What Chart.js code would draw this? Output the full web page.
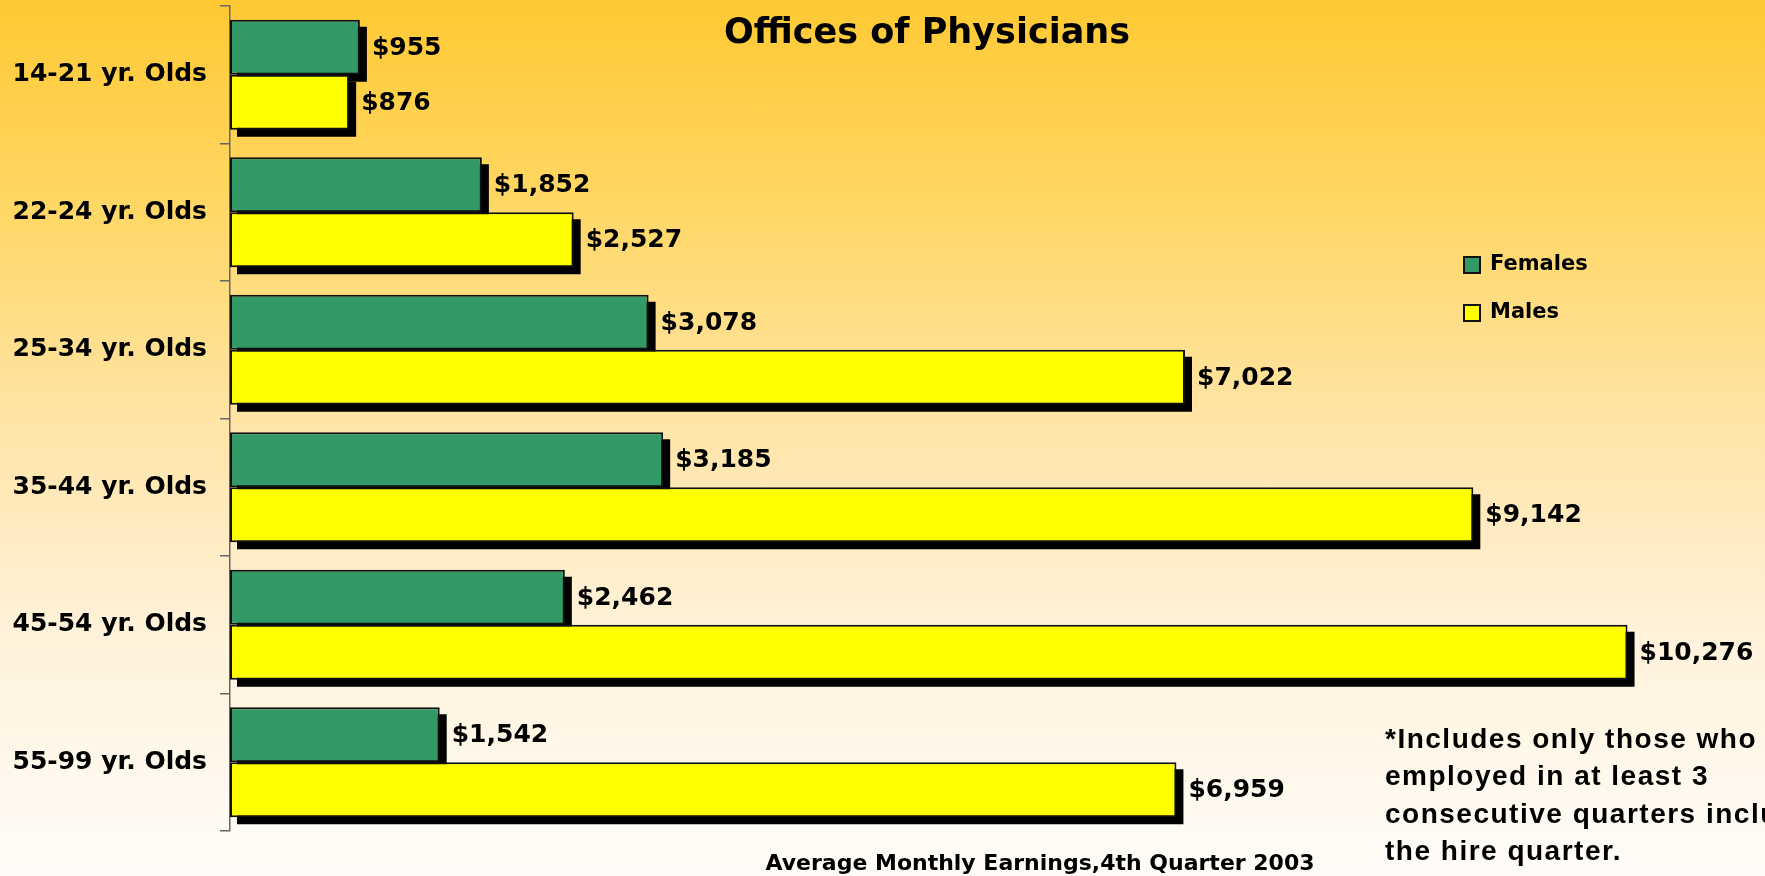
<!DOCTYPE html>
<html>
<head>
<meta charset="utf-8">
<script src="https://cdn.jsdelivr.net/npm/chart.js@4.4.0/dist/chart.umd.min.js"></script>
<style>
  html, body { margin: 0; padding: 0; }
  body {
    width: 1765px; height: 876px; overflow: hidden;
    background: linear-gradient(to bottom, #FFC933 0%, #FFD868 25%, #FFE4A6 48%, #FFF2DA 72%, #FFFCF8 100%);
  }
  #wrap { position: relative; width: 1765px; height: 876px; }
</style>
</head>
<body>
<div id="wrap"><canvas id="myChart" width="1765" height="876"></canvas></div>
<script>
const categories = ['14-21 yr. Olds', '22-24 yr. Olds', '25-34 yr. Olds', '35-44 yr. Olds', '45-54 yr. Olds', '55-99 yr. Olds'];
const females = [955, 1852, 3078, 3185, 2462, 1542];
const males = [876, 2527, 7022, 9142, 10276, 6959];
const seriesNames = ['Females', 'Males'];
const seriesColors = ['#339966', '#FFFF00'];

const titleText = 'Offices of Physicians';
const subtitleText = 'Average Monthly Earnings,4th Quarter 2003';
const noteLines = ['*Includes only those who were', 'employed in at least 3', 'consecutive quarters including', 'the hire quarter.'];

const mainFont = '"DejaVu Sans", sans-serif';

// black drop shadow behind each bar
const barShadow = {
    id: 'barShadow',
    beforeDatasetsDraw(chart) {
        const ctx = chart.ctx;
        ctx.save();
        ctx.fillStyle = '#000';
        chart.data.datasets.forEach((ds, i) => {
            chart.getDatasetMeta(i).data.forEach(bar => {
                const h = bar.height;
                ctx.fillRect(bar.base + 7, bar.y - h / 2 + 7, bar.x - bar.base, h);
            });
        });
        ctx.restore();
    }
};

// value labels, legend, title and notes
const extras = {
    id: 'extras',
    afterDatasetsDraw(chart) {
        const ctx = chart.ctx;
        ctx.save();
        ctx.fillStyle = '#000';
        ctx.font = 'bold 25px ' + mainFont;
        ctx.textBaseline = 'middle';
        ctx.textAlign = 'left';
        chart.data.datasets.forEach((ds, i) => {
            chart.getDatasetMeta(i).data.forEach((bar, j) => {
                ctx.fillText('$' + ds.data[j].toLocaleString('en-US'), bar.x + 12, bar.y + 1);
            });
        });

        // legend
        ctx.font = 'bold 21px ' + mainFont;
        chart.data.datasets.forEach((ds, i) => {
            const y = 265 + i * 48;
            ctx.fillStyle = ds.backgroundColor;
            ctx.fillRect(1464, y - 8, 16, 16);
            ctx.lineWidth = 2;
            ctx.strokeStyle = '#111';
            ctx.strokeRect(1464, y - 8, 16, 16);
            ctx.fillStyle = '#000';
            ctx.fillText(ds.label, 1490, y);
        });

        // title
        ctx.textAlign = 'center';
        ctx.font = 'bold 35px ' + mainFont;
        ctx.fillText(titleText, 927, 34);

        // subtitle
        ctx.font = 'bold 22px ' + mainFont;
        ctx.fillText(subtitleText, 1040, 864);

        // footnote
        ctx.textAlign = 'left';
        ctx.textBaseline = 'alphabetic';
        ctx.font = 'bold 28px "Liberation Sans", Arial, sans-serif';
        ctx.letterSpacing = '1.5px';
        noteLines.forEach((line, k) => {
            ctx.fillText(line, 1385, 748 + k * 37.3);
        });
        ctx.restore();
    }
};

const ctx = document.getElementById('myChart').getContext('2d');
const myChart = new Chart(ctx, {
    type: 'bar',
    data: {
        labels: categories,
        datasets: [{
            label: seriesNames[0],
            data: females,
            backgroundColor: seriesColors[0],
            borderColor: '#111',
            borderWidth: 2,
            borderSkipped: false
        }, {
            label: seriesNames[1],
            data: males,
            backgroundColor: seriesColors[1],
            borderColor: '#111',
            borderWidth: 2,
            borderSkipped: false
        }]
    },
    options: {
        indexAxis: 'y',
        responsive: false,
        animation: false,
        categoryPercentage: 0.8,
        barPercentage: 1.0,
        layout: {
            padding: { left: 0, right: 39, top: 6, bottom: 45 }
        },
        scales: {
            x: {
                display: false,
                min: 0,
                max: 11000
            },
            y: {
                afterFit(scale) {
                    scale.width = 230;
                    scale.paddingTop = 0;
                    scale.paddingBottom = 0;
                },
                grid: {
                    drawOnChartArea: false,
                    drawTicks: true,
                    tickLength: 10,
                    color: '#666',
                    lineWidth: 1.5,
                    offset: true
                },
                border: { display: true, color: '#666', width: 1.5 },
                ticks: {
                    color: '#000',
                    padding: 13,
                    font: { family: mainFont, size: 25, weight: 'bold' }
                }
            }
        },
        plugins: {
            legend: { display: false },
            tooltip: { enabled: false },
            title: { display: false }
        }
    },
    plugins: [barShadow, extras]
});
</script>
</body>
</html>
